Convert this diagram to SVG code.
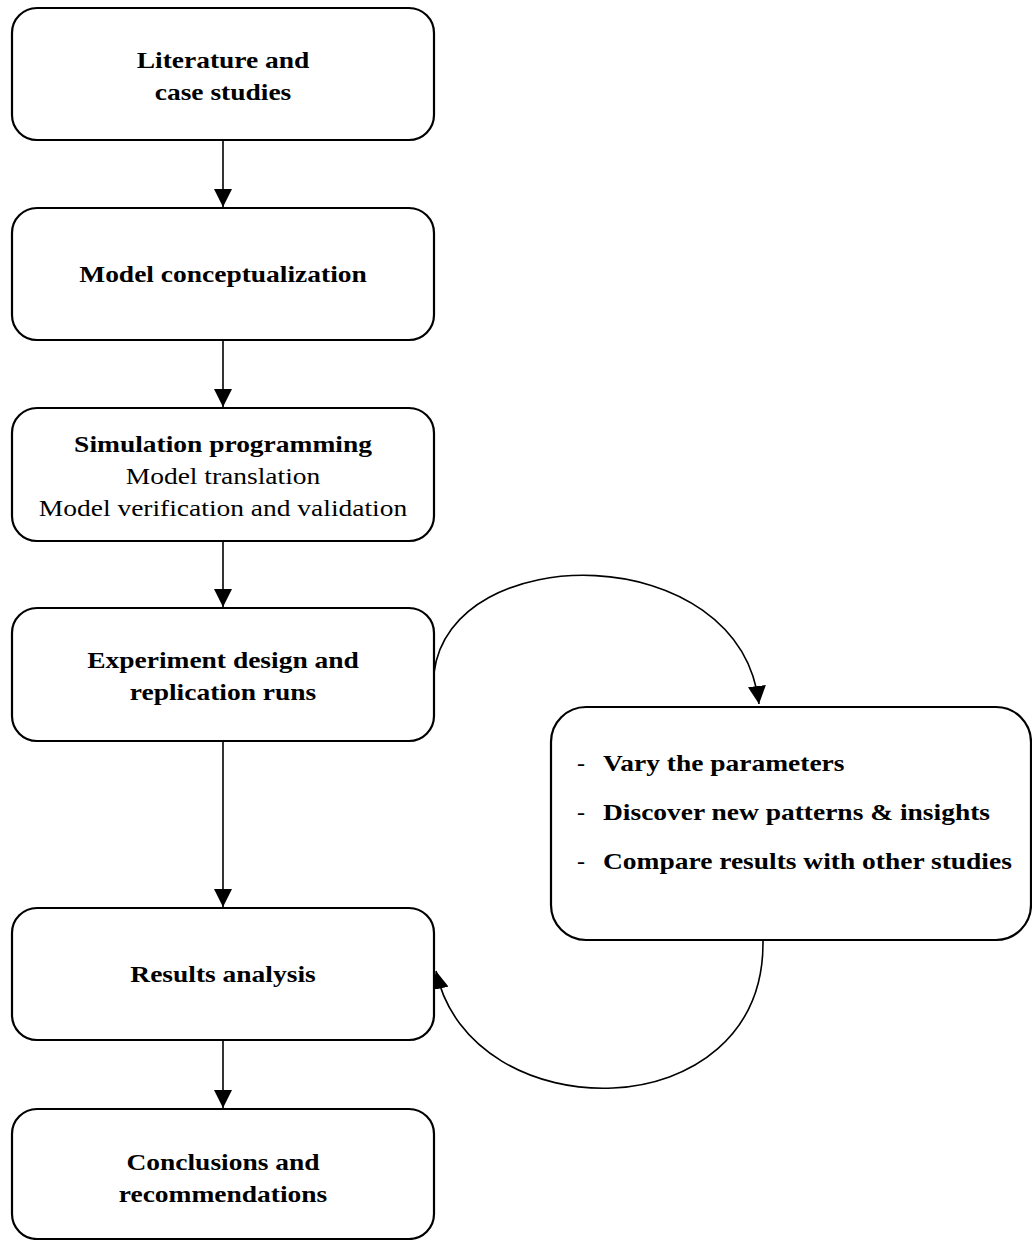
<svg xmlns="http://www.w3.org/2000/svg" width="1032" height="1240" viewBox="0 0 1032 1240">
  <style>
    .box { fill: #fff; stroke: #000; stroke-width: 2.2; }
    .t { font-family: "Liberation Serif", "Times New Roman", serif; font-size: 24px; fill: #000; text-anchor: middle; }
    .b { font-weight: bold; }
    .li { font-family: "Liberation Serif", "Times New Roman", serif; font-size: 24px; fill: #000; font-weight: bold; }
    .dash { font-family: "Liberation Serif", "Times New Roman", serif; font-size: 24px; fill: #000; }
    .edge { fill: none; stroke: #000; stroke-width: 1.6; }
  </style>
  <defs>
    <marker id="arrow" viewBox="0 0 18 18" refX="18" refY="9" markerWidth="18" markerHeight="18" markerUnits="userSpaceOnUse" orient="auto">
      <path d="M0,0 L18,9 L0,18 Z" fill="#000"/>
    </marker>
  </defs>

  <g id="connectors">
    <line class="edge" x1="223" y1="140" x2="223" y2="207" marker-end="url(#arrow)"/>
    <line class="edge" x1="223" y1="340" x2="223" y2="407" marker-end="url(#arrow)"/>
    <line class="edge" x1="223" y1="541" x2="223" y2="607" marker-end="url(#arrow)"/>
    <line class="edge" x1="223" y1="741" x2="223" y2="907" marker-end="url(#arrow)"/>
    <line class="edge" x1="223" y1="1040" x2="223" y2="1108" marker-end="url(#arrow)"/>
    <path class="edge" d="M434,673 C450,538 740,538 759,704" marker-end="url(#arrow)"/>
    <path class="edge" d="M763,941 C765,1132 470,1132 436,971" marker-end="url(#arrow)"/>
  </g>

  <g id="literature">
    <rect class="box" x="12" y="8" width="422" height="132" rx="25"/>
    <g transform="translate(223,0) scale(1.145,1)">
      <text class="t b" x="0" y="68">Literature and</text>
      <text class="t b" x="0" y="100">case studies</text>
    </g>
  </g>

  <g id="conceptualization">
    <rect class="box" x="12" y="208" width="422" height="132" rx="25"/>
    <g transform="translate(223,0) scale(1.145,1)">
      <text class="t b" x="0" y="282">Model conceptualization</text>
    </g>
  </g>

  <g id="programming">
    <rect class="box" x="12" y="408" width="422" height="133" rx="25"/>
    <g transform="translate(223,0) scale(1.145,1)">
      <text class="t b" x="0" y="452">Simulation programming</text>
      <text class="t" x="0" y="484">Model translation</text>
      <text class="t" x="0" y="516">Model verification and validation</text>
    </g>
  </g>

  <g id="experiment">
    <rect class="box" x="12" y="608" width="422" height="133" rx="25"/>
    <g transform="translate(223,0) scale(1.145,1)">
      <text class="t b" x="0" y="668">Experiment design and</text>
      <text class="t b" x="0" y="700">replication runs</text>
    </g>
  </g>

  <g id="analysis">
    <rect class="box" x="12" y="908" width="422" height="132" rx="25"/>
    <g transform="translate(223,0) scale(1.145,1)">
      <text class="t b" x="0" y="982">Results analysis</text>
    </g>
  </g>

  <g id="conclusions">
    <rect class="box" x="12" y="1109" width="422" height="130" rx="25"/>
    <g transform="translate(223,0) scale(1.145,1)">
      <text class="t b" x="0" y="1170">Conclusions and</text>
      <text class="t b" x="0" y="1202">recommendations</text>
    </g>
  </g>

  <g id="activities">
    <rect class="box" x="551" y="707" width="480" height="233" rx="35"/>
    <text class="dash" x="577" y="771">-</text>
    <text class="dash" x="577" y="820">-</text>
    <text class="dash" x="577" y="869">-</text>
    <g transform="translate(603,0) scale(1.145,1)">
      <text class="li" x="0" y="771">Vary the parameters</text>
      <text class="li" x="0" y="820">Discover new patterns &amp; insights</text>
      <text class="li" x="0" y="869">Compare results with other studies</text>
    </g>
  </g>
</svg>
